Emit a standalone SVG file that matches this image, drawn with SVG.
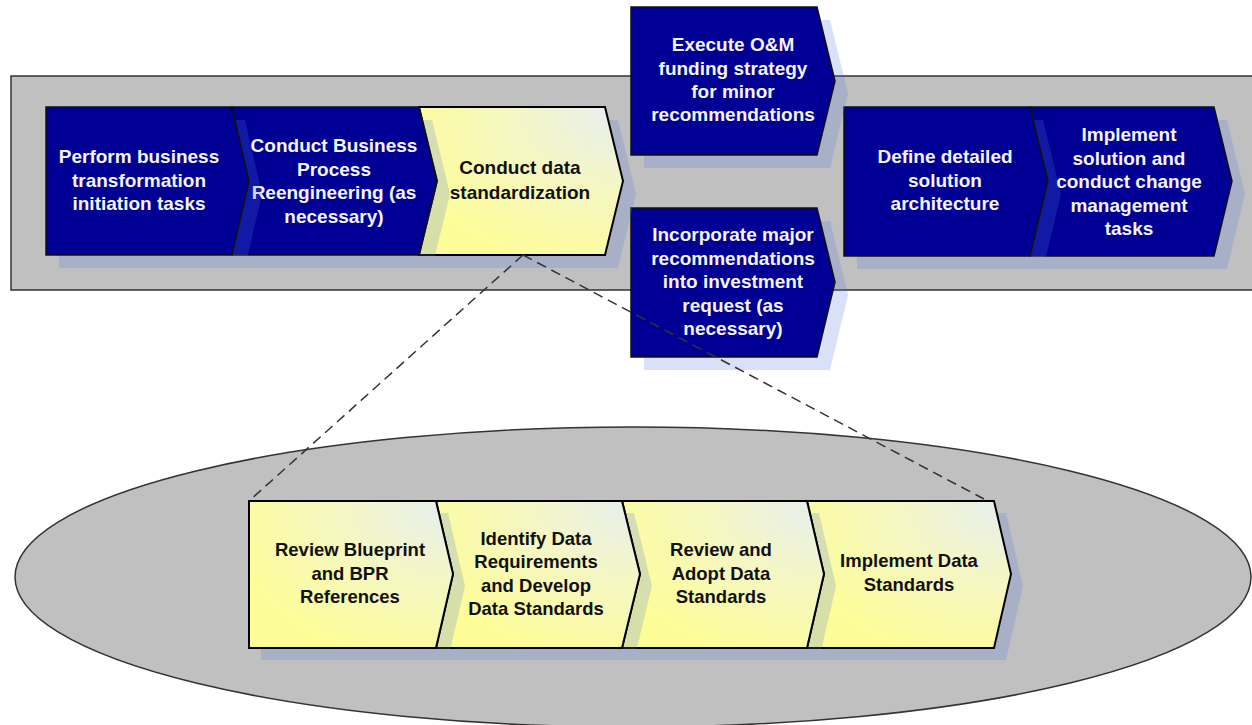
<svg xmlns="http://www.w3.org/2000/svg" width="1252" height="725" viewBox="0 0 1252 725">
  <defs>
    <radialGradient id="yel" cx="1" cy="0" r="1.15" fx="1" fy="0">
      <stop offset="0" stop-color="#e6eef2"/>
      <stop offset="0.45" stop-color="#f4f6c6"/>
      <stop offset="1" stop-color="#fdfd98"/>
    </radialGradient>
    <style>
      .bg { fill: #c0c0c0; stroke: #333; stroke-width: 1.5; }
      .shadow { fill: rgb(83,119,228); fill-opacity: 0.22; stroke: none; }
      .blue { fill: #000094; stroke: #111; stroke-width: 1.5; stroke-linejoin: miter; }
      .yellow { fill: url(#yel); stroke: #000; stroke-width: 2; stroke-linejoin: miter; }
      .tw { fill: #f4f4f4; font-family: "Liberation Sans", Arial, sans-serif; font-weight: bold; font-size: 19px; text-anchor: middle; }
      .tb { fill: #111; font-family: "Liberation Sans", Arial, sans-serif; font-weight: bold; font-size: 19px; text-anchor: middle; }
      .tl { fill: #111; font-family: "Liberation Sans", Arial, sans-serif; font-weight: bold; font-size: 18.5px; text-anchor: middle; }
      .dash { fill: none; stroke: #333; stroke-width: 1.5; stroke-dasharray: 10 6; }
    </style>
  </defs>

  <!-- backgrounds -->
  <rect class="bg" x="11" y="76" width="1250" height="214"/>
  <ellipse class="bg" cx="633" cy="577" rx="618" ry="150"/>

  <!-- top row (drawn right to left so shadows fall over following node) -->
  <g id="n7">
    <polygon class="shadow" points="1043,120 1227,120 1245,194 1227,269 1043,269 1061,194"/>
    <polygon class="blue" points="1030,107 1214,107 1232,181 1214,256 1030,256 1048,181"/>
    <text class="tw" x="1129" y="141">Implement</text>
    <text class="tw" x="1129" y="164.5">solution and</text>
    <text class="tw" x="1129" y="188">conduct change</text>
    <text class="tw" x="1129" y="211.5">management</text>
    <text class="tw" x="1129" y="235">tasks</text>
  </g>
  <g id="n6">
    <polygon class="shadow" points="857,120 1043,120 1061,194 1043,269 857,269"/>
    <polygon class="blue" points="844,107 1030,107 1048,181 1030,256 844,256"/>
    <text class="tw" x="945" y="163">Define detailed</text>
    <text class="tw" x="945" y="186.5">solution</text>
    <text class="tw" x="945" y="210">architecture</text>
  </g>
  <g id="n4">
    <polygon class="shadow" points="644,20 830,20 848,94 830,168 644,168"/>
    <polygon class="blue" points="631,7 817,7 835,81 817,155 631,155"/>
    <text class="tw" x="733" y="51">Execute O&amp;M</text>
    <text class="tw" x="733" y="75">funding strategy</text>
    <text class="tw" x="733" y="98">for minor</text>
    <text class="tw" x="733" y="121">recommendations</text>
  </g>
  <g id="n5">
    <polygon class="shadow" points="644,221 830,221 848,295 830,370 644,370"/>
    <polygon class="blue" points="631,208 817,208 835,282 817,357 631,357"/>
    <text class="tw" x="733" y="241">Incorporate major</text>
    <text class="tw" x="733" y="264.5">recommendations</text>
    <text class="tw" x="733" y="288">into investment</text>
    <text class="tw" x="733" y="311.5">request (as</text>
    <text class="tw" x="733" y="335">necessary)</text>
  </g>
  <g id="n3">
    <polygon class="shadow" points="432,120 618,120 636,194 618,268 432,268 450,194"/>
    <polygon class="yellow" points="419,107 605,107 623,181 605,255 419,255 437,181"/>
    <text class="tb" x="520" y="174">Conduct data</text>
    <text class="tb" x="520" y="199">standardization</text>
  </g>
  <g id="n2">
    <polygon class="shadow" points="245,120 432,120 450,194 432,268 245,268 262,194"/>
    <polygon class="blue" points="232,107 419,107 437,181 419,255 232,255 249,181"/>
    <text class="tw" x="334" y="152">Conduct Business</text>
    <text class="tw" x="334" y="175.5">Process</text>
    <text class="tw" x="334" y="199">Reengineering (as</text>
    <text class="tw" x="334" y="222.5">necessary)</text>
  </g>
  <g id="n1">
    <polygon class="shadow" points="59,120 245,120 262,194 245,268 59,268"/>
    <polygon class="blue" points="46,107 232,107 249,181 232,255 46,255"/>
    <text class="tw" x="139" y="163">Perform business</text>
    <text class="tw" x="139" y="187">transformation</text>
    <text class="tw" x="139" y="210">initiation tasks</text>
  </g>

  <!-- connectors -->
  <g id="connectors">
    <line class="dash" x1="523" y1="255" x2="249" y2="501"/>
    <line class="dash" x1="523" y1="255" x2="984" y2="499"/>
  </g>

  <!-- lower row -->
  <g id="b4">
    <polygon class="shadow" points="819,513 1006,513 1023,586 1006,660 819,660 836,586"/>
    <polygon class="yellow" points="807,501 994,501 1011,574 994,648 807,648 824,574"/>
    <text class="tl" x="909" y="567">Implement Data</text>
    <text class="tl" x="909" y="591">Standards</text>
  </g>
  <g id="b3">
    <polygon class="shadow" points="634,513 819,513 836,586 819,660 634,660 652,586"/>
    <polygon class="yellow" points="622,501 807,501 824,574 807,648 622,648 640,574"/>
    <text class="tl" x="721" y="556">Review and</text>
    <text class="tl" x="721" y="580">Adopt Data</text>
    <text class="tl" x="721" y="603">Standards</text>
  </g>
  <g id="b2">
    <polygon class="shadow" points="448,513 634,513 652,586 634,660 448,660 465,586"/>
    <polygon class="yellow" points="436,501 622,501 640,574 622,648 436,648 453,574"/>
    <text class="tl" x="536" y="545">Identify Data</text>
    <text class="tl" x="536" y="568">Requirements</text>
    <text class="tl" x="536" y="592">and Develop</text>
    <text class="tl" x="536" y="615">Data Standards</text>
  </g>
  <g id="b1">
    <polygon class="shadow" points="261,513 448,513 465,586 448,660 261,660"/>
    <polygon class="yellow" points="249,501 436,501 453,574 436,648 249,648"/>
    <text class="tl" x="350" y="556">Review Blueprint</text>
    <text class="tl" x="350" y="580">and BPR</text>
    <text class="tl" x="350" y="603">References</text>
  </g>
</svg>
